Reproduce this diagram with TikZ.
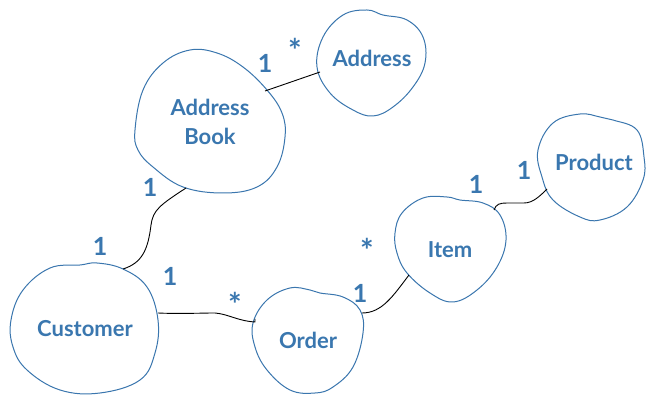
\documentclass[tikz,border=0pt]{standalone}
\usepackage{fontspec}
\setmainfont{Lato}
\definecolor{blobblue}{HTML}{3A76AE}
\definecolor{txtblue}{HTML}{3A77AF}
\begin{document}
\begin{tikzpicture}[x=1pt,y=-1pt,
  blob/.style={draw=blobblue,line width=1pt,fill=white},
  lbl/.style={text=txtblue,font=\fontsize{22}{29}\selectfont\bfseries,align=center,inner sep=0pt},
  mult/.style={text=txtblue,font=\fontsize{25}{28}\selectfont\bfseries,inner sep=0pt},
  star/.style={text=txtblue,font=\fontsize{32}{34}\selectfont\bfseries,inner sep=0pt},
  conn/.style={draw=black,line width=0.9pt}]
\useasboundingbox (0,0) rectangle (646,395);
% blobs
\path[blob] plot[smooth cycle,tension=0.65] coordinates {(135,130) (143,90) (163,63) (190,50) (217,53) (243,67) (267,90) (282,113) (285,137) (277,167) (257,187) (223,193) (183,187) (153,167) (138,150)};
\path[blob] plot[smooth cycle,tension=0.65] coordinates {(317,67) (323,37) (343,15) (367,10) (383,15) (407,20) (423,37) (425,63) (413,87) (393,107) (373,116) (353,110) (330,93)};
\path[blob] plot[smooth cycle,tension=0.65] coordinates {(11,320) (23,290) (50,268) (80,265) (97,263) (123,269) (147,287) (158,320) (155,353) (140,380) (100,393) (60,390) (27,370) (13,347)};
\path[blob] plot[smooth cycle,tension=0.65] coordinates {(253,323) (267,300) (290,288) (310,290) (320,293) (343,297) (360,310) (363,333) (353,367) (333,387) (315,393) (290,390) (267,370) (255,347)};
\path[blob] plot[smooth cycle,tension=0.65] coordinates {(395,233) (402,213) (423,198) (447,197) (460,200) (483,203) (500,215) (506,240) (497,267) (477,290) (453,302) (430,293) (407,273) (397,253)};
\path[blob] plot[smooth cycle,tension=0.65] coordinates {(538,150) (553,123) (580,114) (600,117) (613,120) (637,130) (644,157) (643,180) (627,207) (600,220) (580,217) (553,200) (542,177)};
% texts
\node[lbl] (ab) at (210,122) {Address\\Book};
\node[lbl] (ad) at (372,58) {Address};
\node[lbl] (cu) at (85,329) {Customer};
\node[lbl] (or) at (308,340) {Order};
\node[lbl] (it) at (450,250) {Item};
\node[lbl] (pr) at (594,162) {Product};
% connector end points on the blob outlines
\coordinate (ab-e) at (265,91);
\coordinate (ad-w) at (320,72);
\coordinate (ab-s) at (186,188);
\coordinate (cu-n) at (123,269);
\coordinate (cu-e) at (158,313);
\coordinate (or-w) at (255,322);
\coordinate (or-e) at (362,313);
\coordinate (it-w) at (409,275);
\coordinate (it-e) at (494,210);
\coordinate (pr-w) at (547,189);
% connectors
\draw[conn] (ab-e) -- (ad-w);
\draw[conn] (ab-s) .. controls (160,205) and (153,210) .. (151,225) .. controls (148,250) and (142,263) .. (cu-n);
\draw[conn] (cu-e) .. controls (180,314) and (200,313) .. (215,313) .. controls (228,314) and (238,321) .. (or-w) -- ++(0,-3);
\draw[conn] (or-e) .. controls (382,313) and (393,296) .. (it-w);
\draw[conn] (it-e) .. controls (496,204) and (500,203) .. (507,203) -- (524,203) .. controls (533,203) and (540,196) .. (pr-w);
% multiplicities
\node[mult] (m1) at (265,63) {1};
\node[star] (m2) at (295,50) {*};
\node[mult] (m3) at (150,187) {1};
\node[mult] (m4) at (100,246) {1};
\node[mult] (m5) at (170,276) {1};
\node[star] (m6) at (235,304) {*};
\node[mult] (m7) at (360,293) {1};
\node[star] (m8) at (367,250) {*};
\node[mult] (m9) at (476,184) {1};
\node[mult] (m10) at (524,170) {1};
\end{tikzpicture}
\end{document}
